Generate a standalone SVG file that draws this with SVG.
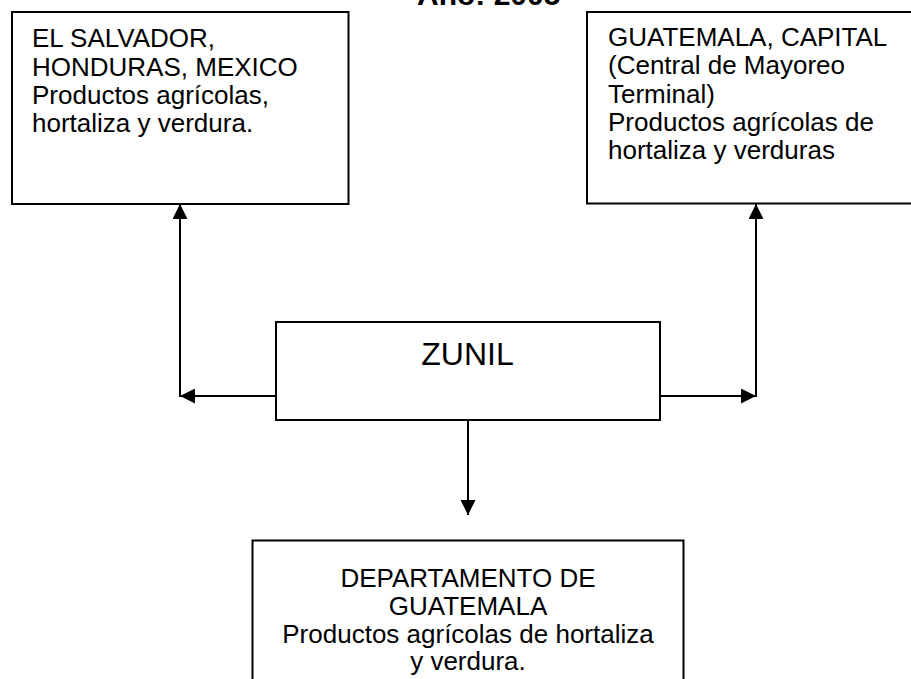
<svg xmlns="http://www.w3.org/2000/svg" width="911" height="679" viewBox="0 0 911 679">
<defs>
<style>
.box{fill:#fff;stroke:#000;stroke-width:2}
.t{font-family:"Liberation Sans",Arial,sans-serif;font-size:26px;fill:#000}
.c{text-anchor:middle}
.ln{stroke:#000;stroke-width:2;fill:none}
</style>
<marker id="ah" markerUnits="userSpaceOnUse" markerWidth="15" markerHeight="15" refX="15" refY="7.5" orient="auto" viewBox="0 0 15 15">
<path d="M0,0 L15,7.5 L0,15 z" fill="#000"/>
</marker>
</defs>
<rect width="911" height="679" fill="#fff"/>
<text x="417" y="5" class="t" style="font-weight:bold;font-size:30px">Año: 2005</text>
<g id="connectors">
<line class="ln" x1="276" y1="396" x2="180" y2="396" marker-end="url(#ah)"/>
<line class="ln" x1="180" y1="397" x2="180" y2="204" marker-end="url(#ah)"/>
<line class="ln" x1="660" y1="396" x2="756" y2="396" marker-end="url(#ah)"/>
<line class="ln" x1="756" y1="397" x2="756" y2="204" marker-end="url(#ah)"/>
<line class="ln" x1="468" y1="420" x2="468" y2="515" marker-end="url(#ah)"/>
</g>
<g id="elsalvador">
<rect class="box" x="12" y="12" width="336.5" height="192"/>
<text class="t" x="32"><tspan x="32" y="47">EL SALVADOR,</tspan><tspan x="32" y="75.5">HONDURAS, MEXICO</tspan><tspan x="32" y="104">Productos agrícolas,</tspan><tspan x="32" y="132">hortaliza y verdura.</tspan></text>
</g>
<g id="guatemala-capital">
<rect class="box" x="587" y="12" width="340" height="191.5"/>
<text class="t" x="608"><tspan x="608" y="46">GUATEMALA, CAPITAL</tspan><tspan x="608" y="74">(Central de Mayoreo</tspan><tspan x="608" y="103">Terminal)</tspan><tspan x="608" y="131">Productos agrícolas de</tspan><tspan x="608" y="159">hortaliza y verduras</tspan></text>
</g>
<g id="zunil">
<rect class="box" x="276" y="322" width="384" height="98"/>
<text class="t c" x="467.5" y="365" style="font-size:32px">ZUNIL</text>
</g>
<g id="departamento">
<rect class="box" x="252.5" y="540.5" width="431" height="160"/>
<text class="t c"><tspan x="468" y="587">DEPARTAMENTO DE</tspan><tspan x="468" y="615">GUATEMALA</tspan><tspan x="468" y="643">Productos agrícolas de hortaliza</tspan><tspan x="468" y="670">y verdura.</tspan></text>
</g>
</svg>
